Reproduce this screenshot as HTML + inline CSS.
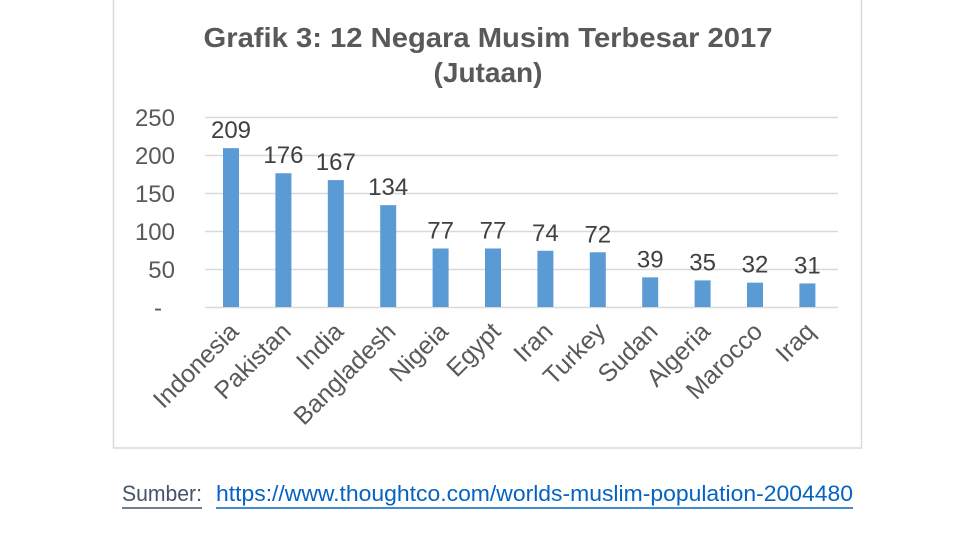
<!DOCTYPE html>
<html><head><meta charset="utf-8"><style>
html,body{margin:0;padding:0;background:#fff;width:975px;height:558px;overflow:hidden}
svg{display:block;font-family:"Liberation Sans",Arial,sans-serif}
</style></head><body>
<svg width="975" height="558" viewBox="0 0 975 558">
<rect x="113.5" y="-1" width="748" height="449" fill="#fff" stroke="#d9d9d9" stroke-width="1.5"/>
<text x="488" y="47" text-anchor="middle" font-size="28" font-weight="bold" fill="#595959" textLength="569" lengthAdjust="spacingAndGlyphs">Grafik 3: 12 Negara Musim Terbesar 2017</text>
<text x="488" y="82" text-anchor="middle" font-size="28" font-weight="bold" fill="#595959">(Jutaan)</text>
<g stroke="#d9d9d9" stroke-width="1.5">
<line x1="205" x2="838" y1="117.5" y2="117.5"/>
<line x1="205" x2="838" y1="155.5" y2="155.5"/>
<line x1="205" x2="838" y1="193.5" y2="193.5"/>
<line x1="205" x2="838" y1="231.5" y2="231.5"/>
<line x1="205" x2="838" y1="269.5" y2="269.5"/>
<line x1="205" x2="838" y1="307.5" y2="307.5"/>
</g>
<g font-size="24" fill="#595959" text-anchor="end">
<text x="175" y="126">250</text>
<text x="175" y="164">200</text>
<text x="175" y="202">150</text>
<text x="175" y="240">100</text>
<text x="175" y="278">50</text>
<text x="162" y="316">-</text>
</g>
<g id="bars" fill="#5b9bd5"></g>
<g id="vals" font-size="24" fill="#404040" text-anchor="middle"></g>
<g id="cats" font-size="25" fill="#595959" text-anchor="end"></g>
<text x="122" y="501" font-size="22" fill="#44546a" textLength="80" lengthAdjust="spacingAndGlyphs">Sumber:</text>
<line x1="122" x2="202" y1="508" y2="508" stroke="#44546a" stroke-width="1.5"/>
<text x="216" y="501" font-size="22" fill="#0563c1" textLength="637" lengthAdjust="spacingAndGlyphs">https://www.thoughtco.com/worlds-muslim-population-2004480</text>
<line x1="216" x2="853" y1="508" y2="508" stroke="#0563c1" stroke-width="1.5"/>
<script>
var d=[["Indonesia",209],["Pakistan",176],["India",167],["Bangladesh",134],["Nigeia",77],["Egypt",77],["Iran",74],["Turkey",72],["Sudan",39],["Algeria",35],["Marocco",32],["Iraq",31]];
var ns="http://www.w3.org/2000/svg",b=document.getElementById("bars"),v=document.getElementById("vals"),c=document.getElementById("cats");
d.forEach(function(e,i){var cx=231+i*52.4,h=e[1]*0.76,y=307-h;
var r=document.createElementNS(ns,"rect");r.setAttribute("x",cx-8);r.setAttribute("y",y);r.setAttribute("width",16);r.setAttribute("height",h);b.appendChild(r);
var t=document.createElementNS(ns,"text");t.setAttribute("x",cx);t.setAttribute("y",y-10);t.textContent=e[1];v.appendChild(t);
var l=document.createElementNS(ns,"text");l.setAttribute("transform","translate("+(cx+9)+",333) rotate(-45)");l.textContent=e[0];c.appendChild(l);});
</script>
</svg>
</body></html>
